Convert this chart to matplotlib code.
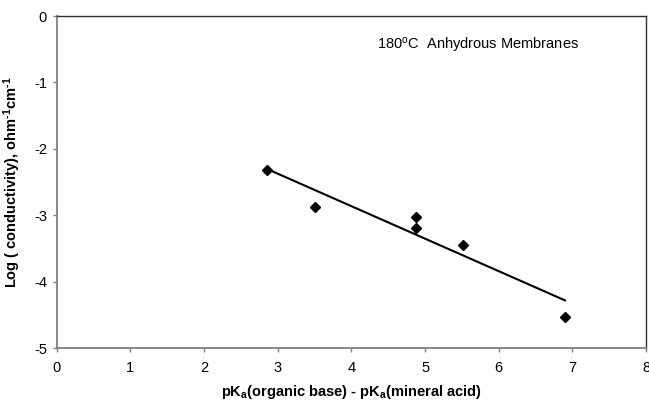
import numpy as np
import matplotlib
matplotlib.use("Agg")
import matplotlib.pyplot as plt

plt.rcParams['font.family'] = ['Liberation Sans', 'DejaVu Sans']
plt.rcParams['mathtext.default'] = 'regular'
plt.rcParams['axes.unicode_minus'] = False

# data
delta_pka = [2.85, 3.50, 4.88, 4.88, 5.52, 6.90]
log_cond = [-2.32, -2.88, -3.02, -3.20, -3.45, -4.53]
x_ticks = [0, 1, 2, 3, 4, 5, 6, 7, 8]
y_ticks = [0, -1, -2, -3, -4, -5]

fig = plt.figure(figsize=(6.49, 4.0), dpi=100)
ax = fig.add_axes([0.0874, 0.13, 0.9080, 0.83])

# linear trendline from data
slope, intercept = np.polyfit(delta_pka, log_cond, 1)
xs = np.array([min(delta_pka), max(delta_pka)])
ax.plot(xs, slope * xs + intercept, color='black', lw=1.5)
ax.plot(delta_pka, log_cond, linestyle='none', marker='D', markersize=5,
        color='black')

ax.set_xlim(0, 8)
ax.set_ylim(-5, 0)
ax.set_xticks(x_ticks)
ax.set_yticks(y_ticks)
ax.tick_params(direction='out', length=3, width=1, colors='#808080',
               labelcolor='black', labelsize=10.5)
ax.tick_params(axis='x', pad=6)
ax.tick_params(axis='y', pad=4)

for s in ['left', 'bottom']:
    ax.spines[s].set_color('#808080')
    ax.spines[s].set_linewidth(1.3)
for s in ['top', 'right']:
    ax.spines[s].set_color('#303030')
    ax.spines[s].set_linewidth(1.0)

ax.set_xlabel('pK$_a$(organic base) - pK$_a$(mineral acid)', fontsize=10.5,
              fontweight='bold', labelpad=6)
ax.set_ylabel('Log ( conductivity), ohm$^{\u2010 1}$cm$^{\u2010 1}$', fontsize=10.5,
              fontweight='bold', labelpad=8)

ax.text(0.543, 0.91, '180$^{o}$C  Anhydrous Membranes', transform=ax.transAxes,
        fontsize=10.5, ha='left', va='center')

fig.savefig('out.png', dpi=100)
